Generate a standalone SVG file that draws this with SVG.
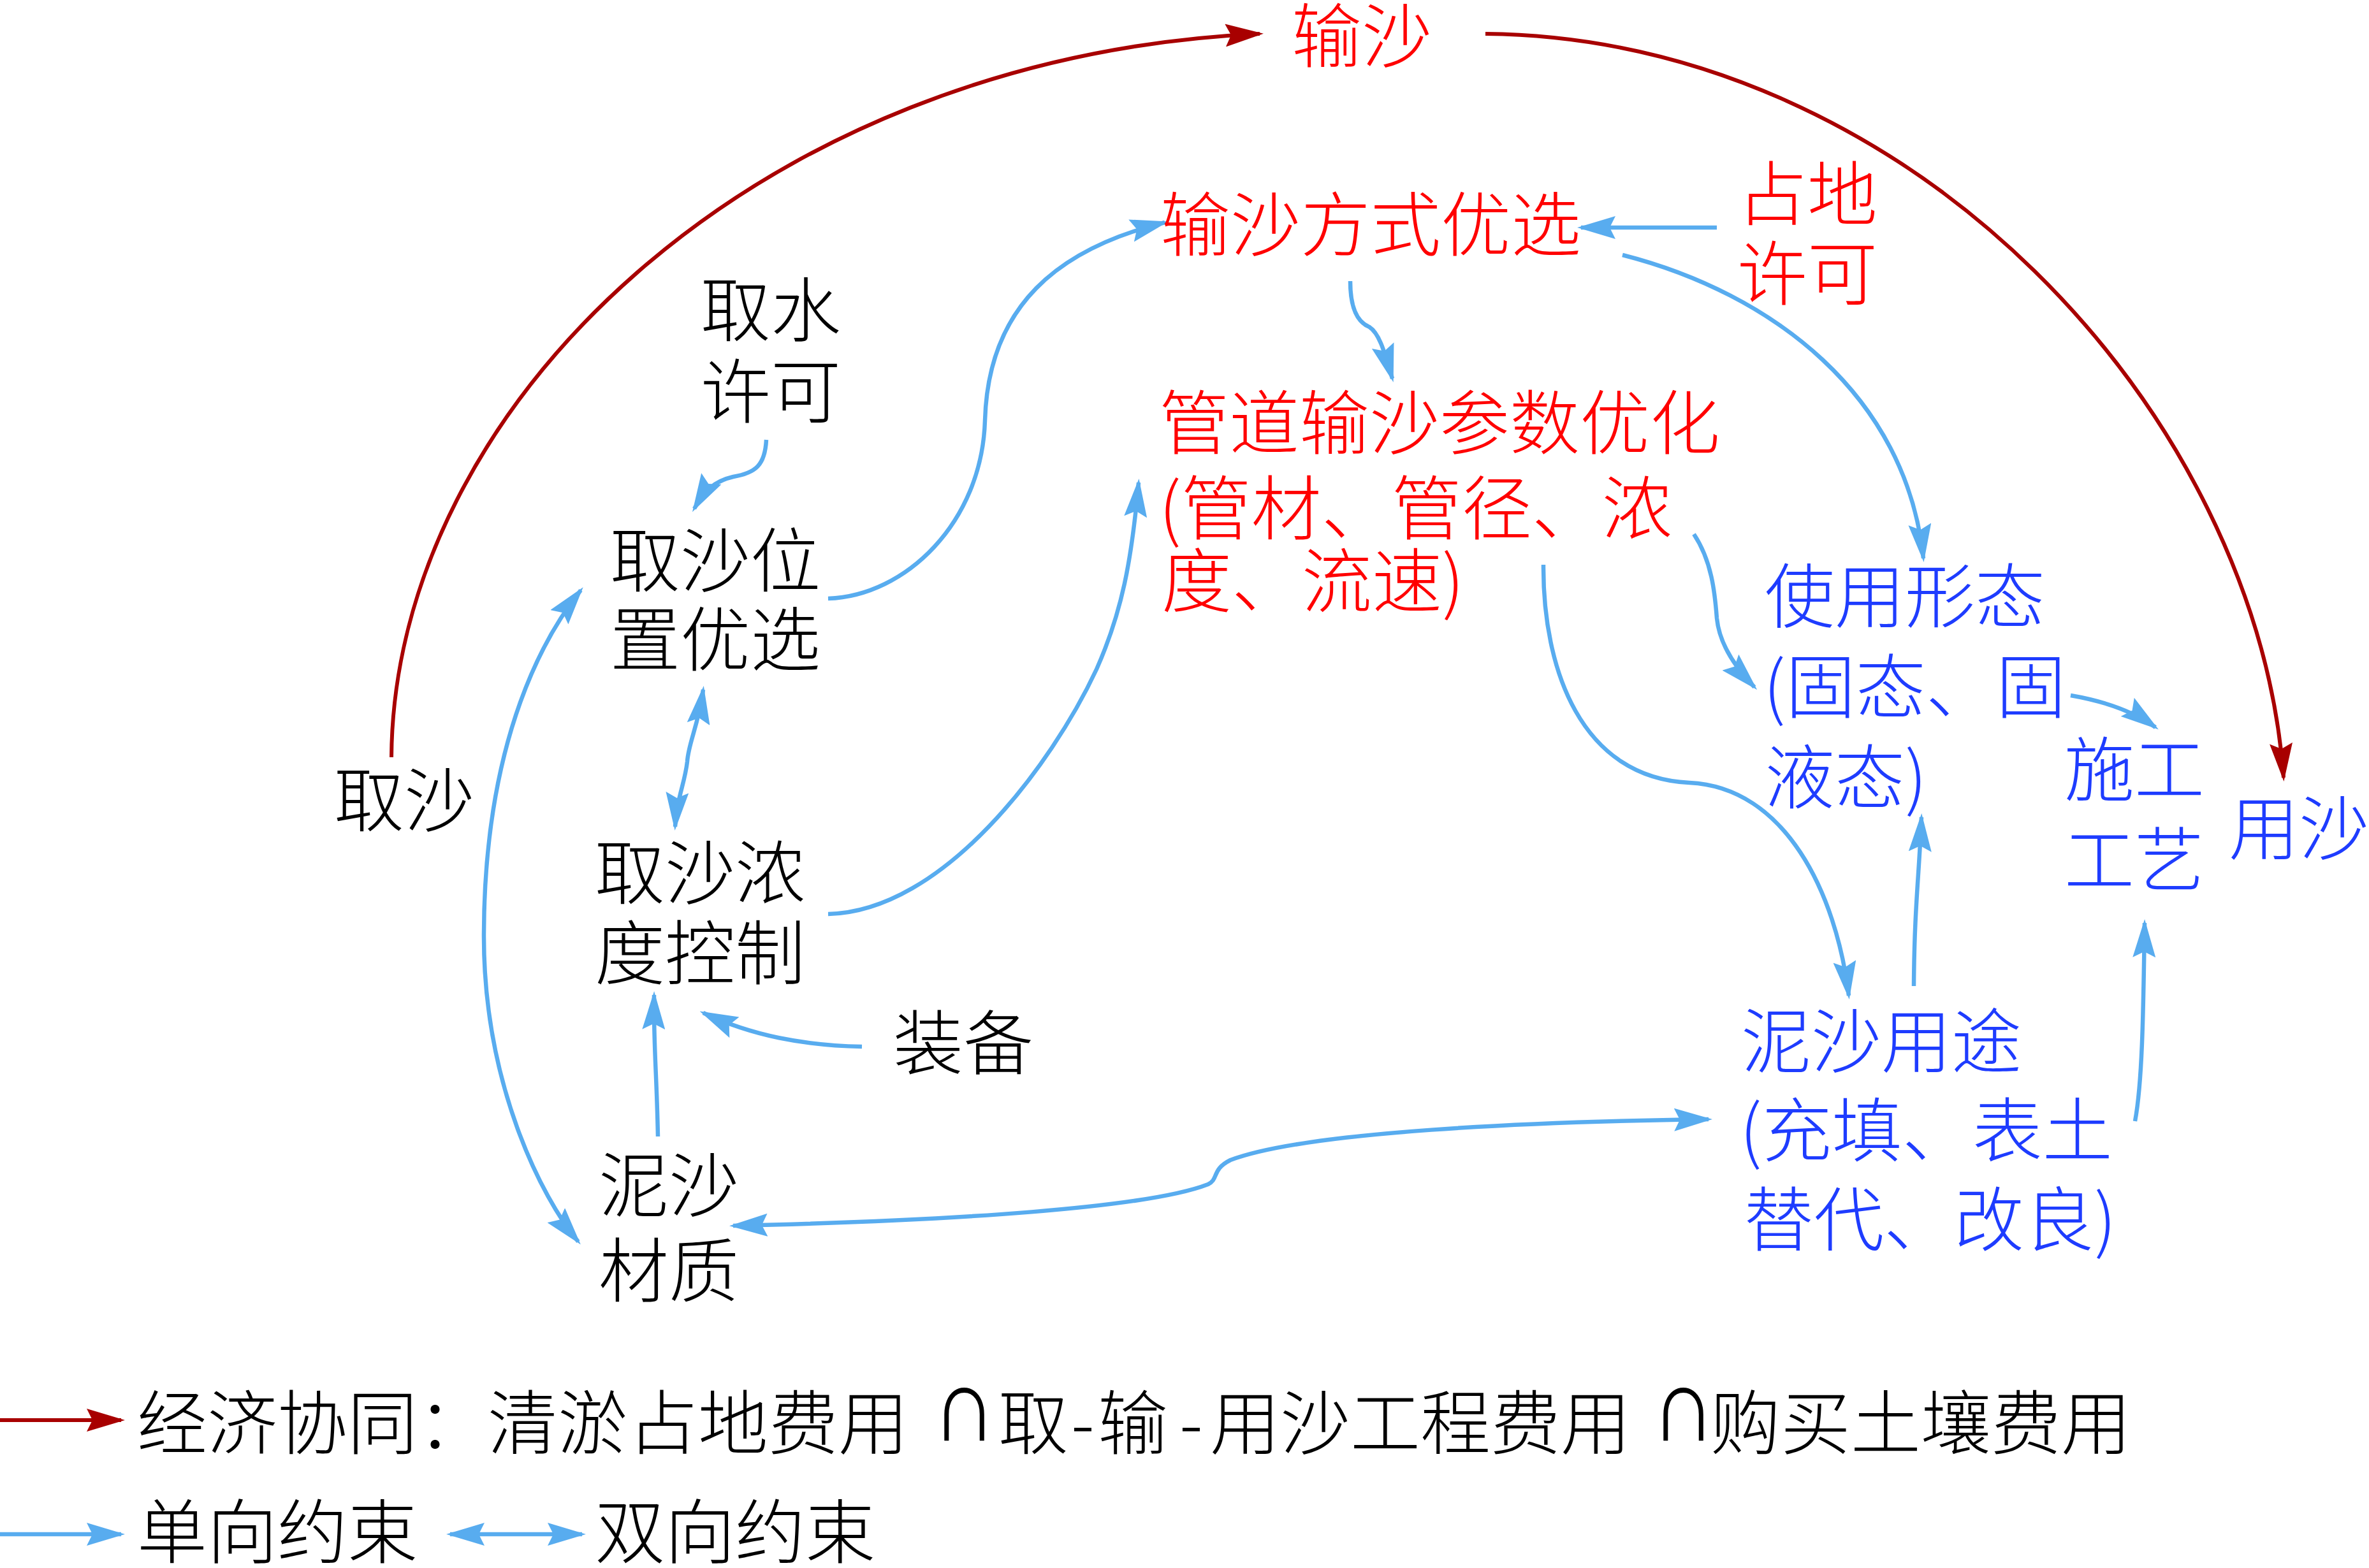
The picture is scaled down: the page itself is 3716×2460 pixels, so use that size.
<svg xmlns="http://www.w3.org/2000/svg" width="3716" height="2460" viewBox="0 0 3716 2460">
<style>
text{font-family:"Noto Sans CJK SC","Noto Sans CJK JP",sans-serif;font-size:110px;font-weight:300}
.k{fill:#000}
.r{fill:#FF0000}
.b{fill:#1E3CFF}
.cb{fill:none;stroke:#58ACEF;stroke-width:6.5}
.cr{fill:none;stroke:#A80000;stroke-width:6}
.sym{font-family:"Liberation Serif","DejaVu Serif",serif;font-size:100px;font-weight:normal}
</style>
<defs>
<marker id="ab" viewBox="0 0 60 36" markerWidth="60" markerHeight="36" markerUnits="userSpaceOnUse" refX="54" refY="18" orient="auto-start-reverse"><path d="M0 0 L60 18 L0 36 L9 18 Z" fill="#58ACEF"/></marker>
<marker id="ar" viewBox="0 0 60 36" markerWidth="60" markerHeight="36" markerUnits="userSpaceOnUse" refX="54" refY="18" orient="auto-start-reverse"><path d="M0 0 L60 18 L0 36 L9 18 Z" fill="#A80000"/></marker>
</defs>
<rect width="3716" height="2460" fill="#fff"/>
<g id="connectors">
<path class="cr" marker-end="url(#ar)" d="M614 1188 C618 640, 1180 90, 1976 53"/>
<path class="cr" marker-end="url(#ar)" d="M2330 53 C3000 60, 3540 650, 3582 1220"/>
<path class="cb" marker-end="url(#ab)" d="M1202 690 C1200 730, 1185 742, 1150 748 C1120 755, 1105 770, 1089 798"/>
<path class="cb" marker-end="url(#ab)" d="M1299 939 C1420 935, 1540 820, 1545 660 C1550 480, 1660 390, 1827 349"/>
<path class="cb" marker-start="url(#ab)" marker-end="url(#ab)" d="M911 926 C860 990, 760 1150, 759 1465 C758 1700, 850 1880, 907 1948"/>
<path class="cb" marker-start="url(#ab)" marker-end="url(#ab)" d="M1103 1082 C1095 1140, 1080 1165, 1078 1195 C1074 1230, 1062 1250, 1059 1297"/>
<path class="cb" marker-end="url(#ab)" d="M1299 1434 C1480 1430, 1650 1200, 1720 1050 C1760 960, 1775 880, 1786 757"/>
<path class="cb" marker-end="url(#ab)" d="M1352 1642 C1260 1640, 1180 1625, 1103 1589"/>
<path class="cb" marker-end="url(#ab)" d="M1032 1783 C1030 1680, 1025 1640, 1026 1561"/>
<path class="cb" marker-start="url(#ab)" marker-end="url(#ab)" d="M1150 1923 C1500 1915, 1800 1895, 1895 1858 C1912 1850, 1900 1835, 1930 1820 C2050 1775, 2400 1760, 2680 1756"/>
<path class="cb" marker-end="url(#ab)" d="M2693 357 L2480 357"/>
<path class="cb" marker-end="url(#ab)" d="M2118 441 C2118 480, 2128 505, 2148 513 C2162 522, 2170 545, 2184 594"/>
<path class="cb" marker-end="url(#ab)" d="M2545 400 C2780 460, 2990 620, 3017 876"/>
<path class="cb" marker-end="url(#ab)" d="M2657 838 C2685 880, 2690 930, 2693 970 C2697 1010, 2720 1045, 2752 1078"/>
<path class="cb" marker-end="url(#ab)" d="M2421 886 C2420 1050, 2480 1220, 2650 1228 C2800 1235, 2880 1400, 2900 1562"/>
<path class="cb" marker-end="url(#ab)" d="M3002 1547 C3003 1420, 3010 1380, 3014 1282"/>
<path class="cb" marker-end="url(#ab)" d="M3248 1091 C3300 1100, 3345 1115, 3381 1141"/>
<path class="cb" marker-end="url(#ab)" d="M3349 1759 C3360 1700, 3362 1600, 3364 1448"/>
</g>
<g id="n-shusha"><text class="r" x="2026" y="97">输沙</text></g>
<g id="n-shushafangshi"><text class="r" x="1820" y="393">输沙方式优选</text></g>
<g id="n-zhandi"><text class="r"><tspan x="2725" y="345">占地</tspan><tspan x="2725" y="470">许可</tspan></text></g>
<g id="n-guandao"><text class="r"><tspan x="1818" y="704">管道输沙参数优化</tspan><tspan x="1818" y="838">(管材、管径、浓</tspan><tspan x="1822" y="952">度、流速)</tspan></text></g>
<g id="n-shiyong"><text class="b"><tspan x="2768" y="976">使用形态</tspan><tspan x="2766" y="1118">(固态、固</tspan><tspan x="2768" y="1260">液态)</tspan></text></g>
<g id="n-shigong"><text class="b"><tspan x="3238" y="1248">施工</tspan><tspan x="3238" y="1390">工艺</tspan></text></g>
<g id="n-yongsha"><text class="b" x="3496" y="1340">用沙</text></g>
<g id="n-yongtu"><text class="b"><tspan x="2731" y="1674">泥沙用途</tspan><tspan x="2729" y="1814">(充填、表土</tspan><tspan x="2735" y="1954">替代、改良)</tspan></text></g>
<g id="n-qushui"><text class="k"><tspan x="1099" y="527">取水</tspan><tspan x="1099" y="655">许可</tspan></text></g>
<g id="n-weizhi"><text class="k"><tspan x="957" y="920">取沙位</tspan><tspan x="957" y="1044">置优选</tspan></text></g>
<g id="n-qusha"><text class="k" x="524" y="1296">取沙</text></g>
<g id="n-nongdu"><text class="k"><tspan x="933" y="1410">取沙浓</tspan><tspan x="933" y="1536">度控制</tspan></text></g>
<g id="n-zhuangbei"><text class="k" x="1401" y="1677">装备</text></g>
<g id="n-caizhi"><text class="k"><tspan x="939" y="1900">泥沙</tspan><tspan x="939" y="2034">材质</tspan></text></g>
<g id="legend">
<path class="cr" marker-end="url(#ar)" d="M0 2228 L190 2228"/>
<text class="k" y="2273"><tspan x="215">经济协同：清淤占地费用</tspan><tspan x="1566">取</tspan><tspan x="1680">-</tspan><tspan x="1722">输</tspan><tspan x="1850">-</tspan><tspan x="1898">用沙工程费用</tspan><tspan x="2683">购买土壤费用</tspan></text>
<text class="k sym" transform="translate(1462 2260) scale(1.4 1.65)">∩</text>
<text class="k sym" transform="translate(2590 2260) scale(1.4 1.65)">∩</text>
<path class="cb" marker-end="url(#ab)" d="M0 2407 L190 2407"/>
<text class="k" x="215" y="2444">单向约束</text>
<path class="cb" marker-start="url(#ab)" marker-end="url(#ab)" d="M706 2407 L913 2407"/>
<text class="k" x="933" y="2444">双向约束</text>
</g>
</svg>
